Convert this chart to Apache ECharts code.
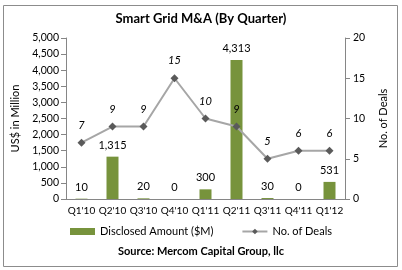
<!DOCTYPE html>
<html>
<head>
<meta charset="utf-8">
<script src="https://cdn.jsdelivr.net/npm/echarts@6/dist/echarts.min.js"></script>
<style>
  html, body { margin: 0; padding: 0; background: #fff; }
  #chart { width: 402px; height: 270px; }
</style>
</head>
<body>
<div id="chart"></div>
<script>
var quarters = ["Q1'10", "Q2'10", "Q3'10", "Q4'10", "Q1'11", "Q2'11", "Q3'11", "Q4'11", "Q1'12"];
var amounts = [10, 1315, 20, 0, 300, 4313, 30, 0, 531];
var deals = [7, 9, 9, 15, 10, 9, 5, 6, 6];

var myChart = echarts.init(document.getElementById("chart"));
var font = 'Lato';

var option = {
    animation: false,
    textStyle: { fontFamily: font },
    title: {
        text: 'Smart Grid M&A (By Quarter)',
        left: 'center',
        top: 7,
        textStyle: { fontSize: 13, fontWeight: 'bold', color: '#000', fontFamily: font }
    },
    graphic: [{
        type: 'rect',
        shape: { x: 3.5, y: 5.5, width: 394, height: 261 },
        style: { fill: 'none', stroke: '#8c8c8c', lineWidth: 1 },
        silent: true
    }, {
        type: 'text',
        left: 'center',
        top: 246,
        style: { text: 'Source: Mercom Capital Group, llc', fontSize: 11, fontWeight: 'bold', fill: '#000', fontFamily: font }
    }],
    legend: {
        bottom: 28,
        left: 'center',
        itemGap: 28,
        itemWidth: 25,
        itemHeight: 7,
        textStyle: { fontSize: 11, color: '#000', fontFamily: font },
        data: [
            { name: 'Disclosed Amount ($M)', icon: 'rect' },
            { name: 'No. of Deals' }
        ]
    },
    grid: { left: 66, right: 57, top: 38, bottom: 71 },
    xAxis: {
        type: 'category',
        data: quarters,
        axisLine: { lineStyle: { color: '#868686' } },
        axisTick: { lineStyle: { color: '#868686' } },
        axisLabel: { color: '#000', fontSize: 10, margin: 7, interval: 0 }
    },
    yAxis: [{
        type: 'value',
        min: 0,
        max: 5000,
        interval: 500,
        name: 'US$ in Million',
        nameLocation: 'middle',
        nameRotate: 90,
        nameGap: 40,
        nameTextStyle: { fontSize: 11, color: '#000' },
        axisLine: { show: true, lineStyle: { color: '#868686' } },
        axisTick: { show: true, lineStyle: { color: '#868686' } },
        splitLine: { show: false },
        axisLabel: {
            color: '#000', fontSize: 10.5, margin: 7,
            formatter: function (v) { return v.toLocaleString('en-US'); }
        }
    }, {
        type: 'value',
        min: 0,
        max: 20,
        interval: 5,
        name: 'No. of Deals',
        nameLocation: 'middle',
        nameRotate: 90,
        nameGap: 33,
        nameTextStyle: { fontSize: 11, color: '#000' },
        axisLine: { show: true, lineStyle: { color: '#868686' } },
        axisTick: { show: true, lineStyle: { color: '#868686' } },
        splitLine: { show: false },
        axisLabel: { color: '#000', fontSize: 10.5, margin: 8 }
    }],
    series: [{
        name: 'Disclosed Amount ($M)',
        type: 'bar',
        yAxisIndex: 0,
        data: amounts,
        barWidth: 12,
        itemStyle: { color: '#77933C' },
        label: {
            show: true,
            position: 'top',
            distance: 6,
            color: '#000',
            fontSize: 11,
            formatter: function (p) { return p.value.toLocaleString('en-US'); }
        }
    }, {
        name: 'No. of Deals',
        type: 'line',
        yAxisIndex: 1,
        data: deals,
        symbol: 'diamond',
        symbolSize: 8,
        lineStyle: { color: '#A6A6A6', width: 2 },
        itemStyle: { color: '#5a5a5a' },
        label: {
            show: true,
            position: 'top',
            distance: 8,
            color: '#000',
            fontSize: 11,
            fontStyle: 'italic'
        },
        z: 3
    }]
};
myChart.setOption(option);
window.addEventListener('resize', function () {
    myChart.resize();
});
</script>
</body>
</html>
